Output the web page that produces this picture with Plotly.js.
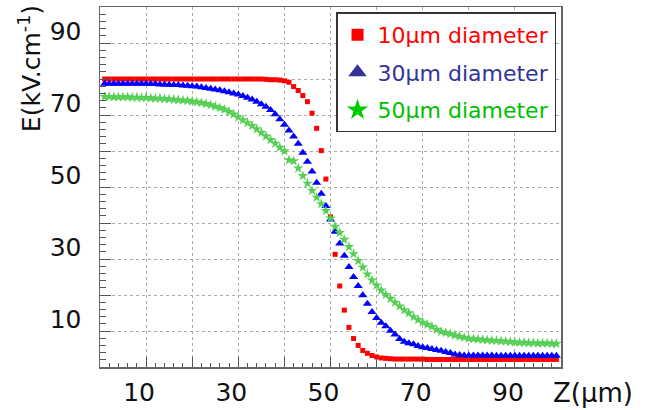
<!DOCTYPE html>
<html>
<head>
<meta charset="utf-8">
<script src="https://cdn.plot.ly/plotly-3.0.1.min.js"></script>
<style>html,body{margin:0;padding:0;background:#fff;}#chart{width:653px;height:410px;}</style>
</head>
<body>
<div id="chart"></div>
<script>
// Z position (µm)
const zPos = [1,2,3,4,5,6,7,8,9,10,11,12,13,14,15,16,17,18,19,20,21,22,23,24,25,26,27,28,29,30,31,32,33,34,35,36,37,38,39,40,41,42,43,44,45,46,47,48,49,50,51,52,53,54,55,56,57,58,59,60,61,62,63,64,65,66,67,68,69,70,71,72,73,74,75,76,77,78,79,80,81,82,83,84,85,86,87,88,89,90,91,92,93,94,95,96,97,98,99];

// E field (kV/cm), 10 µm diameter
const e10 = [80.0,80.0,80.0,80.0,80.0,80.0,80.0,80.0,80.0,80.0,80.0,80.0,80.0,80.0,80.0,80.0,80.0,80.0,80.0,80.0,80.0,80.0,80.0,80.0,80.0,80.0,80.0,80.0,80.0,80.0,80.0,80.0,80.0,80.0,80.0,79.9,79.8,79.8,79.7,79.5,79.1,77.9,76.8,75.4,73.7,70.5,66.3,60.1,52.2,41.7,31.3,22.5,15.8,11.0,7.9,6.0,4.6,3.8,3.2,2.8,2.5,2.4,2.3,2.2,2.2,2.2,2.2,2.2,2.2,2.2,2.1,2.1,2.1,2.1,2.1,2.1,2.1,2.1,2.1,2.1,2.1,2.1,2.1,2.1,2.1,2.1,2.1,2.1,2.1,2.1,2.1,2.1,2.1,2.1,2.1,2.1,2.1,2.1,2.1];

// 30 µm diameter
const e30 = [78.7,78.7,78.7,78.7,78.7,78.7,78.7,78.7,78.7,78.7,78.6,78.6,78.5,78.5,78.4,78.3,78.3,78.2,78.1,78.0,77.9,77.7,77.5,77.3,77.1,76.9,76.6,76.3,76.0,75.7,75.3,74.8,74.3,73.7,73.0,72.3,71.4,70.2,68.8,67.3,65.7,64.0,62.0,59.5,57.0,54.3,51.2,48.1,44.7,41.0,37.6,34.3,30.9,27.8,25.0,22.5,19.9,17.6,15.3,13.6,12.3,11.3,10.1,9.0,7.8,7.0,6.6,6.3,5.8,5.5,5.3,5.0,4.7,4.5,4.2,3.9,3.5,3.3,3.2,3.2,3.2,3.2,3.2,3.2,3.2,3.1,3.1,3.1,3.1,3.1,3.1,3.1,3.1,3.1,3.1,3.1,3.1,3.1,3.1];

// 50 µm diameter
const e50 = [75.1,75.1,75.0,75.0,75.0,75.0,74.9,74.9,74.8,74.8,74.7,74.6,74.6,74.5,74.4,74.3,74.2,74.1,74.0,73.8,73.6,73.4,73.1,72.8,72.4,72.0,71.5,70.9,70.2,69.4,68.6,67.8,67.0,66.1,65.1,64.1,63.1,62.1,61.0,60.0,57.5,57.2,55.2,53.1,51.0,49.0,47.1,45.3,43.4,41.3,39.0,37.3,35.4,33.4,31.4,29.5,27.7,25.8,24.1,22.7,21.3,20.1,19.0,17.9,16.9,15.8,15.0,13.9,13.1,12.4,11.8,11.2,10.4,9.8,9.5,9.2,8.8,8.5,8.2,7.9,7.8,7.7,7.6,7.5,7.4,7.3,7.2,7.1,7.0,6.9,6.8,6.8,6.7,6.7,6.6,6.6,6.6,6.5,6.5];

const seriesNames = ['10µm diameter', '30µm diameter', '50µm diameter'];
const xTickVals = [10,30,50,70,90];
const xTickText = ['10','30','50','70','90'];
const yTickVals = [10,30,50,70,90];
const yTickText = ['10','30','50','70','90'];

const FONT = 'DejaVu Sans, Arial, sans-serif';
const TICKC = '#555';

const traces = [
  {x: zPos, y: e10, type: 'scatter', mode: 'markers', showlegend: false,
   marker: {symbol: 'square', size: 5, color: '#ff0000'}},
  {x: zPos, y: e30, type: 'scatter', mode: 'markers', showlegend: false,
   marker: {symbol: 'triangle-up', size: 8, color: '#0000ff'}},
  {x: zPos, y: e50, type: 'scatter', mode: 'markers', showlegend: false,
   marker: {symbol: 'star', size: 8, color: '#55d055'}},
  // empty trace that carries the fine tick axes
  {x: [], y: [], type: 'scatter', mode: 'markers', xaxis: 'x2', yaxis: 'y2', showlegend: false, hoverinfo: 'skip'},
  // legend entries
  {x: [null], y: [null], type: 'scatter', mode: 'markers', legendgroup: 'a',
   name: '<span style="color:#ff0000">' + seriesNames[0] + '</span>',
   marker: {symbol: 'square', size: 12, color: '#ff0000'}},
  {x: [null], y: [null], type: 'scatter', mode: 'markers', legendgroup: 'b',
   name: '<span style="color:#333399">' + seriesNames[1] + '</span>',
   marker: {symbol: 'triangle-up', size: 16, color: '#333399'}},
  {x: [null], y: [null], type: 'scatter', mode: 'markers', legendgroup: 'c',
   name: '<span style="color:#00c000">' + seriesNames[2] + '</span>',
   marker: {symbol: 'star', size: 16, color: '#00cc00'}}
];

const layout = {
  width: 653, height: 410,
  margin: {l: 100, r: 92, t: 7, b: 43, pad: 0},
  paper_bgcolor: '#ffffff', plot_bgcolor: '#ffffff',
  font: {family: FONT, size: 24, color: '#111'},
  showlegend: true,
  legend: {
    x: 0.512, y: 0.985, xanchor: 'left', yanchor: 'top',
    bgcolor: '#ffffff', bordercolor: '#333333', borderwidth: 1.5,
    font: {family: FONT, size: 22},
    traceorder: 'grouped', tracegroupgap: 6
  },
  xaxis: {
    range: [0, 100], tickmode: 'array', tickvals: xTickVals, ticktext: xTickText,
    ticks: 'inside', ticklen: 10, tickcolor: TICKC, tickwidth: 1,
    showgrid: true, gridcolor: '#aaaaaa', griddash: 'dot', gridwidth: 1,
    zeroline: false, showline: true, linecolor: '#666', linewidth: 1.5, mirror: true,
    tickfont: {family: FONT, size: 25, color: '#111'},
    ticklabelshift: -7, ticklabelstandoff: 2,
    minor: {tickmode: 'linear', tick0: 0, dtick: 10, ticks: 'inside', ticklen: 10, tickcolor: TICKC,
            showgrid: true, gridcolor: '#aaaaaa', griddash: 'dot', gridwidth: 1}
  },
  yaxis: {
    range: [0, 100], tickmode: 'array', tickvals: yTickVals, ticktext: yTickText,
    ticks: 'inside', ticklen: 11, tickcolor: TICKC, tickwidth: 1,
    showgrid: true, gridcolor: '#aaaaaa', griddash: 'dot', gridwidth: 1,
    zeroline: false, showline: true, linecolor: '#666', linewidth: 1.5, mirror: true,
    tickfont: {family: FONT, size: 25, color: '#111'},
    ticklabelshift: -12, ticklabelstandoff: 12,
    minor: {tickmode: 'linear', tick0: 0, dtick: 10, ticks: 'inside', ticklen: 11, tickcolor: TICKC,
            showgrid: true, gridcolor: '#aaaaaa', griddash: 'dot', gridwidth: 1}
  },
  xaxis2: {
    overlaying: 'x', anchor: 'y', side: 'bottom', range: [0, 100],
    tickmode: 'linear', tick0: 0, dtick: 2, ticks: 'inside', ticklen: 4, tickcolor: TICKC,
    showticklabels: false, showgrid: false, zeroline: false, showline: false
  },
  yaxis2: {
    overlaying: 'y', anchor: 'x', side: 'left', range: [0, 100],
    tickmode: 'linear', tick0: 0, dtick: 2, ticks: 'inside', ticklen: 6, tickcolor: TICKC,
    showticklabels: false, showgrid: false, zeroline: false, showline: false
  },
  annotations: [
    {xref: 'paper', yref: 'paper', x: -0.152, y: 0.83, xanchor: 'center', yanchor: 'middle',
     text: 'E(kV.cm<sup>-1</sup>)', textangle: -90, showarrow: false,
     font: {family: FONT, size: 25, color: '#111'}},
    {xref: 'paper', yref: 'paper', x: 1.069, y: -0.073, xanchor: 'center', yanchor: 'middle',
     text: 'Z(µm)', showarrow: false, font: {family: FONT, size: 26, color: '#111'}}
  ]
};

Plotly.newPlot('chart', traces, layout, {displayModeBar: false, staticPlot: true});
</script>
</body>
</html>
